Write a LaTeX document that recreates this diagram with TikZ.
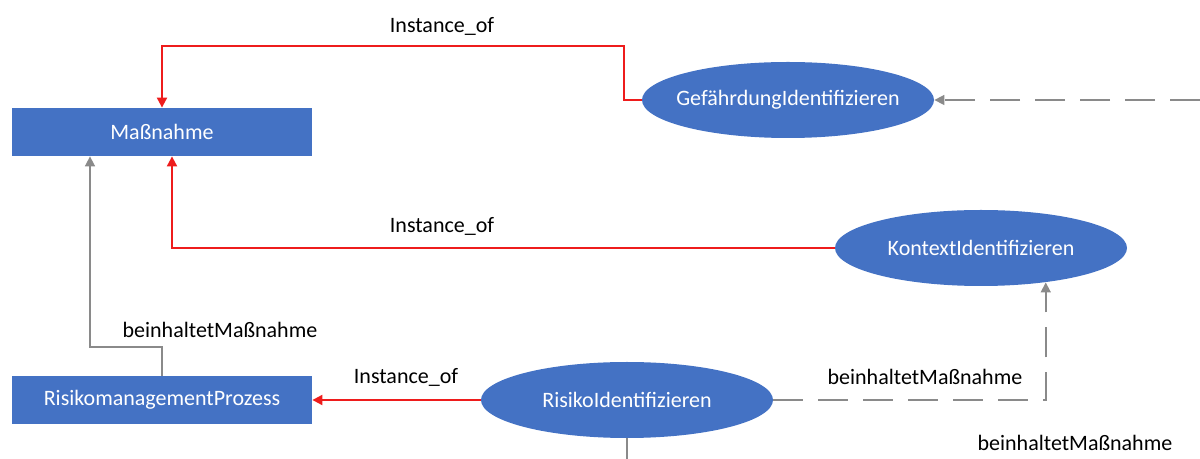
\documentclass[tikz,border=0pt]{standalone}
\usepackage{fontspec}
\setmainfont{Carlito}
\usetikzlibrary{shapes.geometric,arrows.meta}
\definecolor{boxblue}{HTML}{4472C4}
\definecolor{linkgray}{HTML}{8A8A8A}
\definecolor{linkred}{HTML}{EE1C1C}

\begin{document}
\begin{tikzpicture}[x=0.5pt,y=-0.5pt,font=\fontsize{11}{13}\selectfont]
    \tikzstyle{class}=[rectangle,fill=boxblue,text=white,minimum width=150pt,minimum height=24pt,inner sep=0pt]
    \tikzstyle{task}=[ellipse,fill=boxblue,text=white,minimum width=146pt,minimum height=38pt,inner xsep=-15pt,inner ysep=0pt]
    \tikzstyle{instance link}=[draw=linkred,line width=1pt,-{Triangle[width=5pt,length=5pt]}]
    \tikzstyle{part link}=[draw=linkgray,line width=0.8pt,-{Triangle[width=5pt,length=5pt]}]
    \tikzstyle{part dashed}=[part link,dash pattern=on 15pt off 7.5pt]
    \tikzstyle{annot}=[text=black,inner sep=1pt]

    \useasboundingbox (0,0) rectangle (1200,459);

    % classes
    \node[class] (M) at (162,132) {Maßnahme};
    \node[class] (RP) at (162,400) {RisikomanagementProzess};

    % process steps
    \node[task] (GI) at (788,100) {GefährdungIdentifizieren};
    \node[task] (KI) at (981,248) {KontextIdentifizieren};
    \node[task] (RI) at (627,400) {RisikoIdentifizieren};

    % corner points and loose ends
    \coordinate (c1) at (624,46);
    \coordinate (c2) at (90,347);
    \coordinate (e1) at (1200,100);
    \coordinate (e2) at (627,459);

    % Instance links
    \draw[instance link] (GI.west) -| (c1) -| (M.north);
    \draw[instance link] (KI.west) -| ([xshift=5pt]M.south);
    \draw[instance link] (RI.west) -- (RP.east);

    % beinhaltetMassnahme links
    \draw[part link] (RP.north) |- (c2) -- (c2 |- M.south);
    \draw[part dashed] (RI.east) -| (KI.-28);
    \draw[part dashed] (e1) -- (GI.east);
    \draw[draw=linkgray,line width=0.8pt] (RI.south) -- (e2);

    % labels
    \node[annot] (L1) at (442,26) {Instance\_of};
    \node[annot] (L2) at (442,226) {Instance\_of};
    \node[annot] (L3) at (406,377) {Instance\_of};
    \node[annot] (L4) at (220,330) {beinhaltetMaßnahme};
    \node[annot] (L5) at (925,377) {beinhaltetMaßnahme};
    \node[annot] (L6) at (1075,443) {beinhaltetMaßnahme};
\end{tikzpicture}
\end{document}
